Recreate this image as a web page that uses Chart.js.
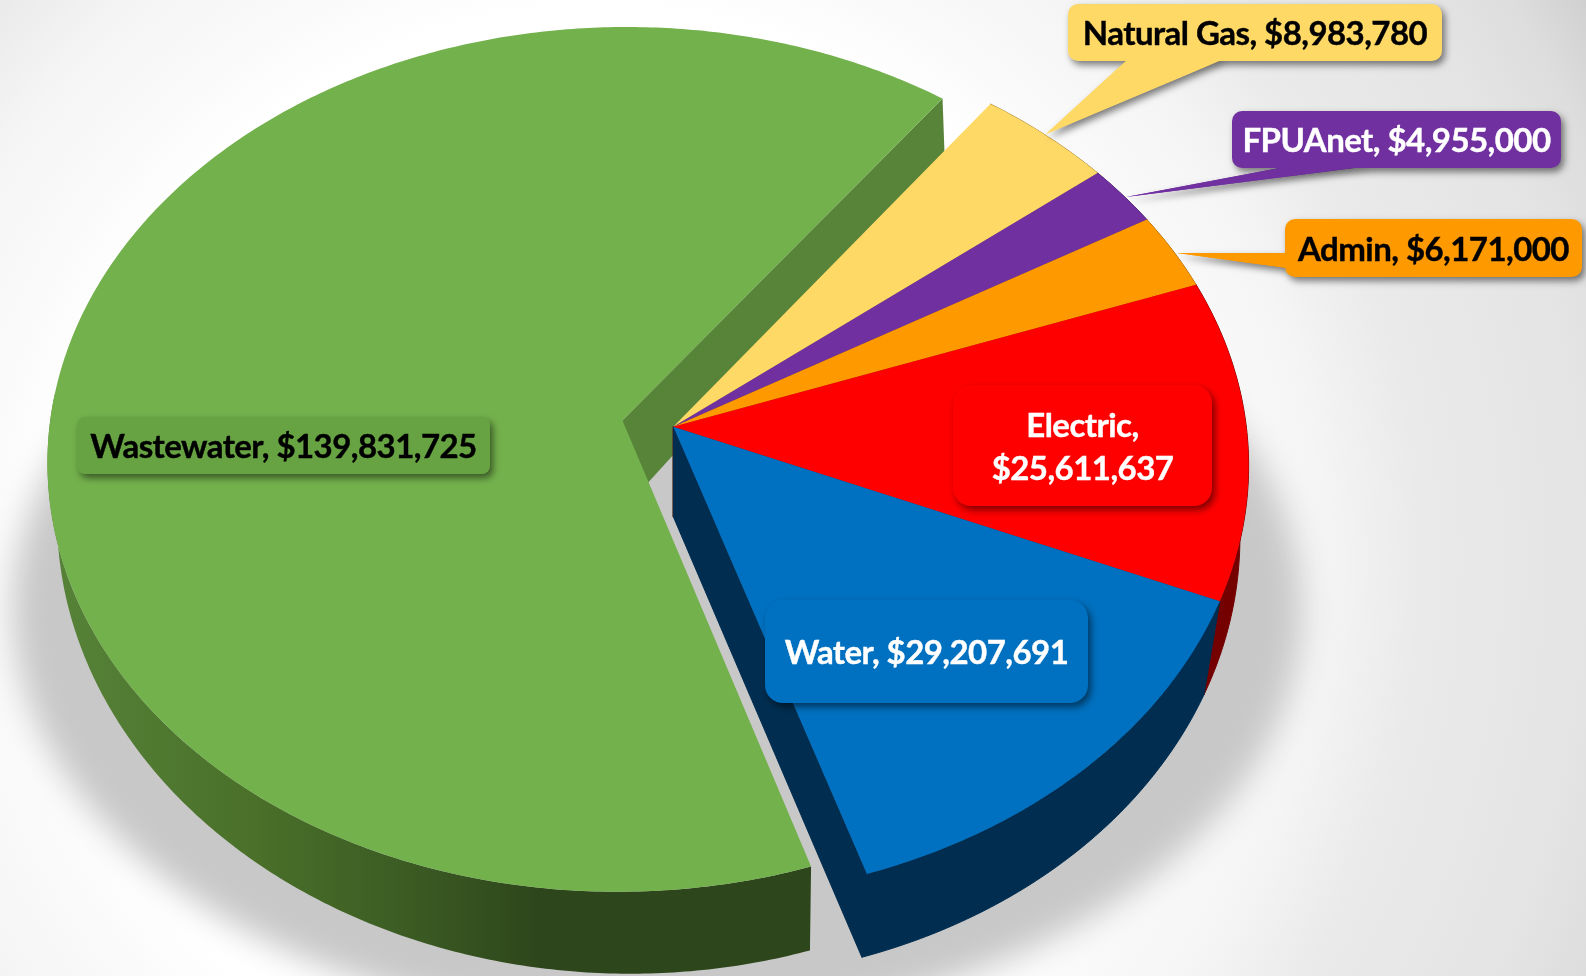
<!DOCTYPE html>
<html lang="en">
<head>
<meta charset="UTF-8">
<title>Budget by utility</title>
<script src="https://cdn.jsdelivr.net/npm/chart.js@4/dist/chart.umd.js"></script>
<style>
  html, body { margin: 0; padding: 0; }
  body { width: 1586px; height: 976px; overflow: hidden;
    background: radial-gradient(circle at 600px 560px, #ffffff 550px, #fafafa 620px, #f5f5f5 720px, #eaeaea 820px, #e4e4e4 990px, #dddddd 1070px, #d0d0d0 1134px); }
  #box { width: 1586px; height: 976px; }
</style>
</head>
<body>
<div id="box"><canvas id="myChart"></canvas></div>
<script>
const categories = ['Wastewater', 'Natural Gas', 'FPUAnet', 'Admin', 'Electric', 'Water']
const amounts = [139831725, 8983780, 4955000, 6171000, 25611637, 29207691]

const topColors = ['#73b14c', '#ffd966', '#7030a0', '#ff9900', '#ff0000', '#0070c0']
const wallColors = ['#3f6627', '#a08030', '#40205c', '#995c00', '#740000', '#002d50']
const faceColors = ['#58843a', '#a08030', '#40205c', '#995c00', '#740000', '#002d50']

// the pie is tilted with some perspective, so the top and the bottom disc each get their own projection
const topDisc = { x: 673.3, y: 426.7, a: 573, b: 430, k: 0.09, s: 0 }
const lowDisc = { x: 673.3, y: 516.7, a: 566, b: 450, k: 0.03, s: 9 }
const explodedIndex = 0
const explodeShare = 0.09

// callout boxes, one per category
const callouts = [
    { x: 77, y: 417, w: 413, h: 57, r: 8, fill: '#68a343', text: '#000', lines: 1 },
    { x: 1068, y: 4, w: 374, h: 57, r: 10, fill: '#ffd966', text: '#000', lines: 1, tail: [[1128, 59], [1224, 59], [1046, 134]] },
    { x: 1232, y: 111, w: 329, h: 57, r: 10, fill: '#7030a0', text: '#fff', lines: 1, tail: [[1290, 166], [1370, 166], [1126, 197]] },
    { x: 1285, y: 219, w: 297, h: 58, r: 10, fill: '#ff9900', text: '#000', lines: 1, tail: [[1287, 253], [1287, 268], [1177, 253]] },
    { x: 953, y: 385, w: 259, h: 121, r: 18, fill: '#ff0000', text: '#fff', lines: 2 },
    { x: 765, y: 600, w: 323, h: 103, r: 18, fill: '#0070c0', text: '#fff', lines: 1 }
]

function project(disc, angle, share, shift) {
    const u = share * Math.cos(angle) + shift.u
    const v = share * Math.sin(angle) + shift.v
    const w = 1 - disc.k * v
    return [disc.x + disc.a * u / w + disc.s * v, disc.y + disc.b * v / w]
}

function arcPoints(disc, a0, a1, shift) {
    const pts = []
    const n = Math.ceil((a1 - a0) / 0.01)
    for (let i = 0; i <= n; i++) pts.push(project(disc, a0 + (a1 - a0) * i / n, 1, shift))
    return pts
}

function fillPoly(ctx, pts, fill, seal) {
    ctx.beginPath()
    pts.forEach((p, i) => i ? ctx.lineTo(p[0], p[1]) : ctx.moveTo(p[0], p[1]))
    ctx.closePath()
    ctx.fillStyle = fill
    ctx.fill()
    if (seal) {
        // hides the hairline where two wall pieces meet
        ctx.strokeStyle = fill
        ctx.lineWidth = 1
        ctx.stroke()
    }
}

function drawCallout(ctx, c, lines) {
    ctx.save()
    ctx.shadowColor = 'rgba(0,0,0,0.5)'
    ctx.shadowBlur = 7
    ctx.shadowOffsetX = 3
    ctx.shadowOffsetY = 4
    if (c.tail) fillPoly(ctx, c.tail, c.fill)
    ctx.beginPath()
    ctx.roundRect(c.x, c.y, c.w, c.h, c.r)
    ctx.fillStyle = c.fill
    ctx.fill()
    ctx.restore()
    if (c.tail) fillPoly(ctx, c.tail, c.fill)

    ctx.fillStyle = c.text
    ctx.strokeStyle = c.text
    ctx.lineWidth = 0.4
    ctx.font = 'bold 33px Lato'
    ctx.letterSpacing = '-0.55px'
    ctx.textAlign = 'center'
    ctx.textBaseline = 'middle'
    const mid = c.y + c.h / 2 + 2
    lines.forEach((t, i) => {
        const y = mid + (i - (lines.length - 1) / 2) * 43
        ctx.fillText(t, c.x + c.w / 2, y)
        ctx.strokeText(t, c.x + c.w / 2, y)
    })
}

const pie3d = {
    id: 'pie3d',
    // the flat arcs are replaced, their angles still come from the controller
    beforeDatasetDraw(chart, args) {
        const ctx = chart.ctx
        const arcs = args.meta.data
        const shifts = arcs.map((arc, i) => {
            const mid = (arc.startAngle + arc.endAngle) / 2
            return i === explodedIndex ? { u: explodeShare * Math.cos(mid), v: explodeShare * Math.sin(mid) } : { u: 0, v: 0 }
        })

        // floor shadow
        ctx.save()
        ctx.filter = 'blur(16px)'
        ctx.beginPath()
        ctx.ellipse(657, 610, 645, 416, 0, 0, Math.PI * 2)
        ctx.fillStyle = '#c8c8c8'
        ctx.fill()
        ctx.restore()

        arcs.forEach((arc, i) => {
            const sh = shifts[i]
            const seal = i !== explodedIndex
            const apexTop = project(topDisc, 0, 0, sh)
            const apexLow = project(lowDisc, 0, 0, sh)
            const face = [apexTop, project(topDisc, arc.endAngle, 1, sh), project(lowDisc, arc.endAngle, 1, sh), apexLow]
            fillPoly(ctx, face, faceColors[i], seal)
            let wall = wallColors[i]
            let wallEnd = arc.endAngle
            if (i === explodedIndex) {
                wall = ctx.createLinearGradient(60, 0, 540, 0)
                wall.addColorStop(0, '#568238')
                wall.addColorStop(0.4, '#4a7029')
                wall.addColorStop(0.7, '#3c5d24')
                wall.addColorStop(1, '#2e461b')
                // past the left edge this wall is at the back and must not poke out
                wallEnd = Math.min(wallEnd, Math.PI * 1.02)
            }
            fillPoly(ctx, arcPoints(topDisc, arc.startAngle, wallEnd, sh).concat(arcPoints(lowDisc, arc.startAngle, wallEnd, sh).reverse()), wall, seal)
        })

        arcs.forEach((arc, i) => {
            const pts = [project(topDisc, 0, 0, shifts[i])].concat(arcPoints(topDisc, arc.startAngle, arc.endAngle, shifts[i]))
            fillPoly(ctx, pts, arc.options.backgroundColor)
        })

        categories.forEach((name, i) => {
            const money = '$' + amounts[i].toLocaleString('en-US')
            drawCallout(ctx, callouts[i], callouts[i].lines === 2 ? [name + ',', money] : [name + ', ' + money])
        })
        return false
    }
}

new Chart(document.getElementById('myChart'), {
    type: 'pie',
    data: {
        labels: categories,
        datasets: [{ data: amounts, backgroundColor: topColors, borderWidth: 0 }]
    },
    options: {
        responsive: true,
        maintainAspectRatio: false,
        animation: false,
        rotation: 162,
        plugins: { legend: { display: false }, tooltip: { enabled: false } }
    },
    plugins: [pie3d]
})
</script>
</body>
</html>
